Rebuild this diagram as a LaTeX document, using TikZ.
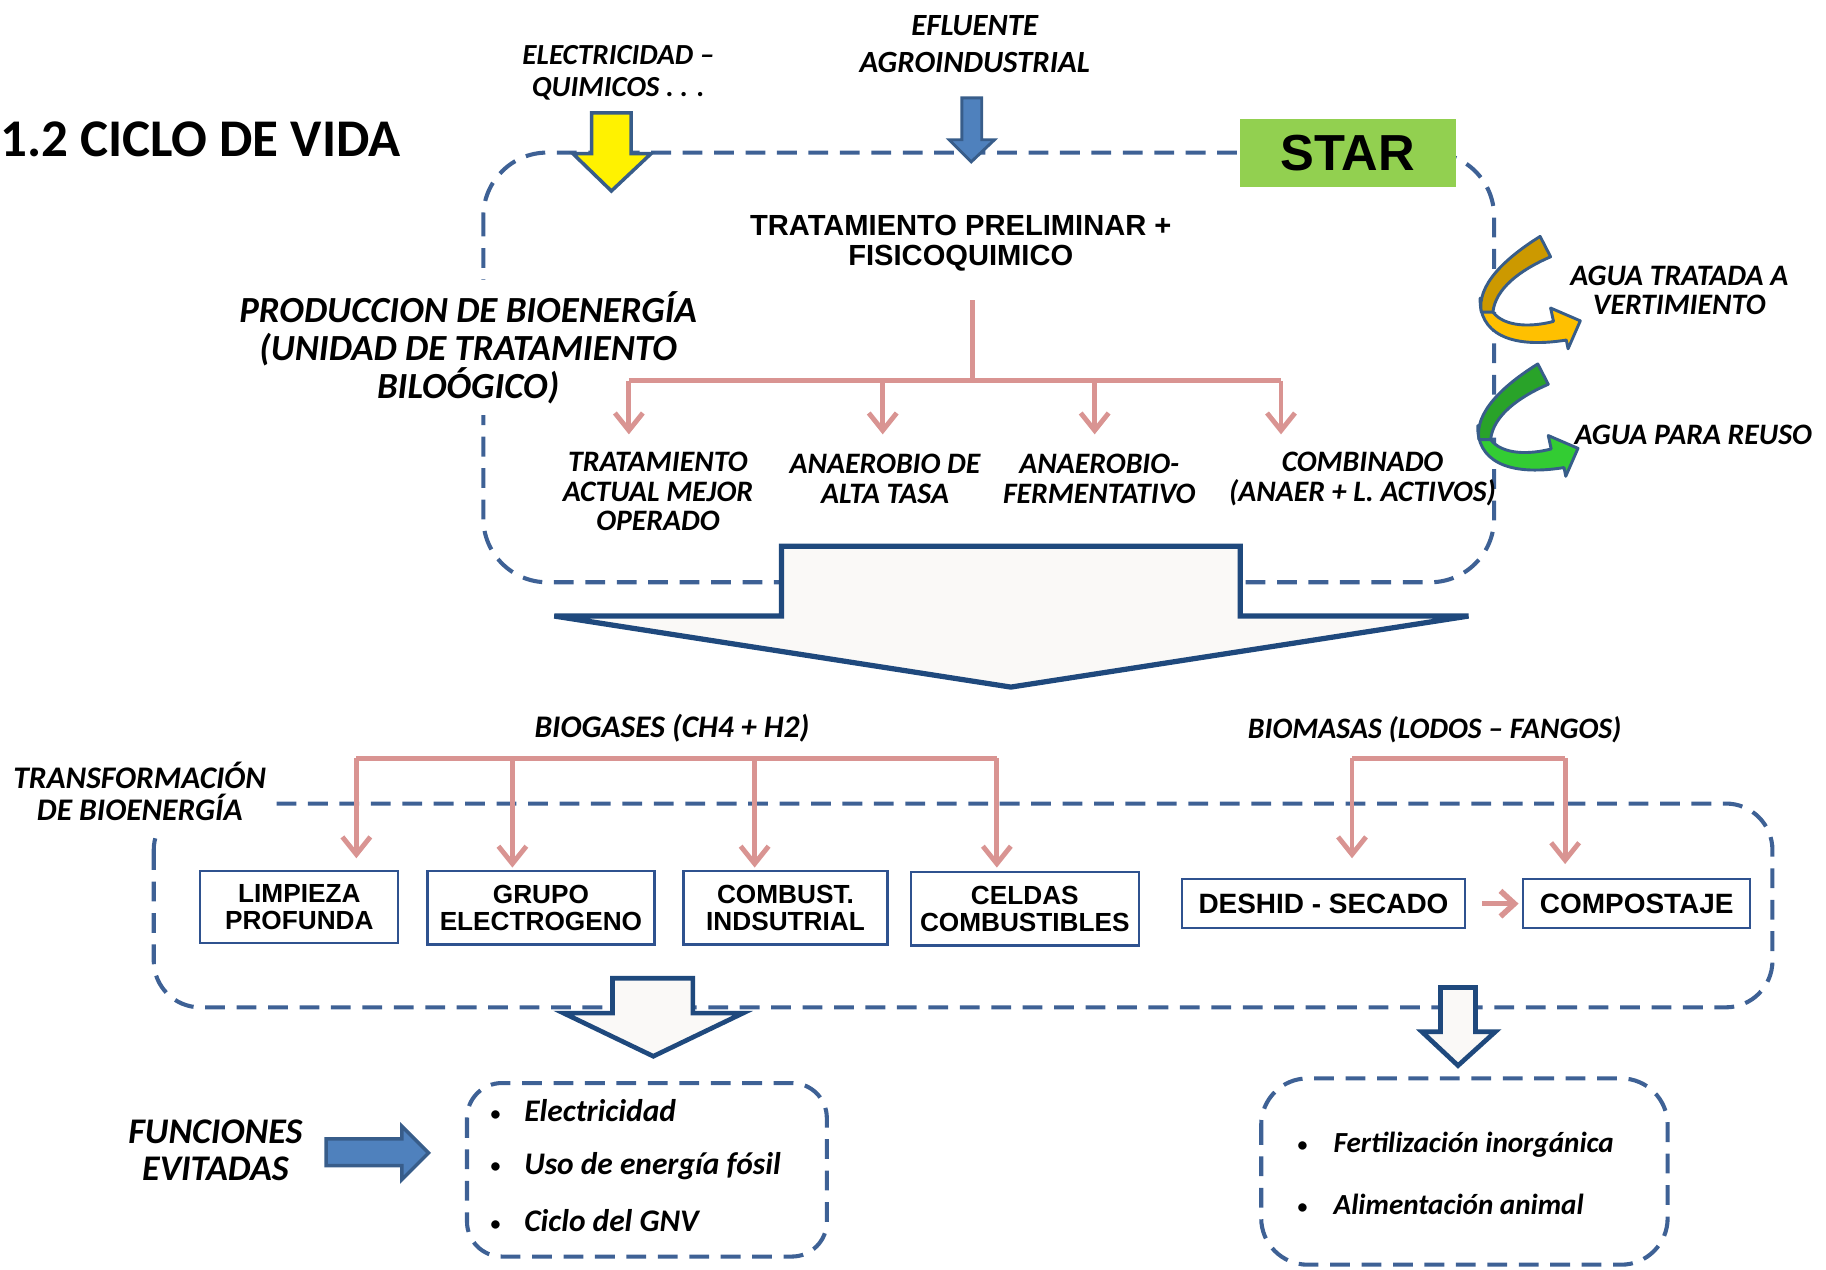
\documentclass[tikz,border=0pt]{standalone}
\usepackage{fontspec}
\setmainfont{Carlito}
\newfontfamily\arialf{Liberation Sans}
\usetikzlibrary{arrows.meta}
\definecolor{dashblue}{RGB}{62,97,149}
\definecolor{pinkc}{RGB}{217,148,146}
\definecolor{navy}{RGB}{31,73,125}
\definecolor{boxblue}{RGB}{47,82,143}
\definecolor{stargreen}{RGB}{146,208,80}
\definecolor{golddark}{RGB}{204,153,0}
\definecolor{goldlight}{RGB}{255,192,0}
\definecolor{greendark}{RGB}{41,163,41}
\definecolor{greenlight}{RGB}{51,204,51}
\definecolor{arrowblue}{RGB}{79,129,189}
\definecolor{arrowedge}{RGB}{56,93,138}
\definecolor{offwhite}{RGB}{250,249,247}
\newcommand\mycurvarrow[3]{%
  \begin{scope}[shift={(#1)}]
    \draw[arrowedge, line width=2.5pt, line join=round, fill=#3]
      (1271,256) .. controls (1270,285) and (1295,300) .. (1345,292)
      -- (1346.5,299.5) -- (1357,275.5) -- (1331.5,264.5) -- (1334,276)
      .. controls (1315,281) and (1292,281) .. (1282,268) -- cycle;
    \draw[arrowedge, line width=2.5pt, line join=round, fill=#2]
      (1322.5,203) .. controls (1292,222) and (1268,245) .. (1272,268)
      -- (1282,268) .. controls (1284,248) and (1305,232) .. (1331.5,220.5) -- cycle;
  \end{scope}}
\newcommand\mybul{\makebox[0pt][l]{\upshape\fontsize{17}{17}\selectfont\raisebox{1pt}{\textbullet}}}
\begin{document}
\begin{tikzpicture}[x=1pt,y=-1pt,
  itf/.style 2 args={font=\fontsize{#1}{#2}\selectfont\bfseries\itshape, align=center, inner sep=0pt},
  arf/.style 2 args={font=\arialf\fontsize{#1}{#2}\selectfont\bfseries, align=center, inner sep=0pt},
  dbox/.style={draw=dashblue, line width=3.5pt, dash pattern=on 17pt off 10pt},
  pbox/.style={draw=boxblue, line width=2pt, fill=white},
  pk/.style={draw=pinkc, line width=4.2pt},
  pka/.style={pk, -{Straight Barb[length=15pt,width=24pt]}},
  blk/.style={draw=navy, line width=4.5pt, fill=offwhite, line join=miter},
  fillarrow/.style={draw=arrowedge, line width=3pt, line join=miter},
]
\useasboundingbox (0,0) rectangle (1568,1090);

% dashed frames
\draw[dbox, rounded corners=55pt] (415,131) rectangle (1283,500);
\draw[dbox, rounded corners=40pt] (132,690) rectangle (1522,865);
\draw[dbox, rounded corners=30pt] (401,930) rectangle (710,1079);
\draw[dbox, rounded corners=40pt] (1083,926) rectangle (1432,1086);

% STAR
\node[fill=stargreen, minimum width=185pt, minimum height=59pt, inner sep=0pt,
      font=\arialf\fontsize{43.5}{43.5}\selectfont\bfseries] (star) at (1157.5,131.5) {STAR};

% labels with white background that cut the frames
\node[itf={31.6}{32.5}, fill=white, inner xsep=6pt, inner ysep=10pt] (prod) at (402,298.5)
  {PRODUCCION DE BIOENERGÍA\\(UNIDAD DE TRATAMIENTO\\BILOÓGICO)};
\node[itf={27}{27}, fill=white, inner xsep=8pt, inner ysep=14pt] (transf) at (120,679.5)
  {TRANSFORMACIÓN\\DE BIOENERGÍA};

% top title and inputs
\node[font=\fontsize{45.5}{45.5}\selectfont\bfseries, anchor=west, inner sep=0pt] (title) at (0,120) {1.2 CICLO DE VIDA};
\node[itf={25}{27}] (elec) at (531,62.5) {ELECTRICIDAD –\\QUIMICOS . . .};
\node[itf={26.5}{32}] (eflu) at (837,38) {EFLUENTE\\AGROINDUSTRIAL};

\draw[fillarrow, fill=yellow] (508,97) -- (542,97) -- (542,132) -- (559,132) -- (525,164)
  -- (492,132) -- (508,132) -- cycle;
\draw[fillarrow, fill=arrowblue, line width=2.5pt] (826,84) -- (843,84) -- (843,120) -- (854,120)
  -- (834,139) -- (815,120) -- (826,120) -- cycle;

\node[arf={25}{26}] (prelim) at (825,209) {TRATAMIENTO PRELIMINAR +\\FISICOQUIMICO};

% four treatment options
\node[itf={25.5}{25.5}] (opt1) at (565,422) {TRATAMIENTO\\ACTUAL MEJOR\\OPERADO};
\node[itf={25.5}{26}] (opt2) at (760,411) {ANAEROBIO DE\\ALTA TASA};
\node[itf={25.5}{26}] (opt3) at (944,411) {ANAEROBIO-\\FERMENTATIVO};
\node[itf={25.5}{26}] (opt4) at (1170,411) {COMBINADO\\(ANAER + L. ACTIVOS)};

\coordinate (p0) at (835,258);
\coordinate (p1) at (835,327);
\coordinate (pl) at (540,327);
\coordinate (pr) at (1100,327);
\draw[pk] (p0) -- (p1);
\draw[pk] (pl) -- (pr);
\draw[pka] (pl) -- (540,373);
\draw[pka] (758,327) -- (758,373);
\draw[pka] (940,327) -- (940,373);
\draw[pka] (pr) -- (1100,373);

% right outputs
\mycurvarrow{0,0}{golddark}{goldlight}
\mycurvarrow{-2,109.5}{greendark}{greenlight}
\node[itf={25.5}{25}] (agua1) at (1442,249.5) {AGUA TRATADA A\\VERTIMIENTO};
\node[itf={25.5}{25}] (agua2) at (1454,373) {AGUA PARA REUSO};

% big block arrow
\draw[blk] (671,469) -- (1065,469) -- (1065,529) -- (1261,529) -- (868,590) -- (476,529)
  -- (671,529) -- cycle;

% transformation stage
\node[itf={27}{27}] (biogas) at (577,625) {BIOGASES (CH4 + H2)};
\node[itf={25.5}{25}] (biomas) at (1232,627) {BIOMASAS (LODOS – FANGOS)};

\node[pbox, minimum width=170pt, minimum height=62pt, inner sep=0pt, arf={22.5}{23}] (limp) at (257,779) {LIMPIEZA\\PROFUNDA};
\node[pbox, minimum width=195pt, minimum height=63pt, inner sep=0pt, arf={22.5}{23}] (grupo) at (464.5,779.5) {GRUPO\\ELECTROGENO};
\node[pbox, minimum width=175pt, minimum height=63pt, inner sep=0pt, arf={22.5}{23}] (comb) at (674.5,779.5) {COMBUST.\\INDSUTRIAL};
\node[pbox, minimum width=196pt, minimum height=63pt, inner sep=0pt, arf={22.5}{23}] (celdas) at (880,780.5) {CELDAS\\COMBUSTIBLES};
\node[pbox, minimum width=243pt, minimum height=42pt, inner sep=0pt, arf={24}{24}] (deshid) at (1136.5,776) {DESHID - SECADO};
\node[pbox, minimum width=195pt, minimum height=42pt, inner sep=0pt, arf={24}{24}] (compost) at (1405.5,776) {COMPOSTAJE};

\coordinate (bgl) at (306,651);
\coordinate (bgr) at (856,651);
\draw[pk] (bgl) -- (bgr);
\draw[pka] (bgl) -- (306,737);
\draw[pka] (440,651) -- (440,745);
\draw[pka] (648,651) -- (648,745);
\draw[pka] (bgr) -- (856,745);

\coordinate (bml) at (1161,651);
\coordinate (bmr) at (1344,651);
\draw[pk] (bml) -- (bmr);
\draw[pka] (bml) -- (1161,737);
\draw[pka] (bmr) -- (1344,742);

\draw[draw=pinkc, line width=4.8pt, -{Straight Barb[length=12pt,width=22pt]}, shorten <=14pt, shorten >=3pt]
  (deshid.east) -- (compost.west);

% lower block arrows
\draw[blk, line width=4pt] (526,840) -- (595,840) -- (595,870) -- (638,870) -- (561,907)
  -- (484,870) -- (526,870) -- cycle;
\draw[blk, line width=4pt] (1237,848) -- (1267,848) -- (1267,886) -- (1284,886) -- (1252,915)
  -- (1221,886) -- (1237,886) -- cycle;

% avoided functions
\node[itf={31}{32}] (func) at (185,988) {FUNCIONES\\EVITADAS};
\draw[fillarrow, fill=arrowblue] (280,978) -- (345,978) -- (345,967) -- (368,990) -- (345,1013)
  -- (345,1001) -- (280,1001) -- cycle;

\node[itf={27}{27}, anchor=west] (i1) at (421,954) {\makebox[29pt][l]{\mybul}Electricidad};
\node[itf={27}{27}, anchor=west] (i2) at (421,1001) {\makebox[29pt][l]{\mybul}Uso de energía fósil};
\node[itf={27}{27}, anchor=west] (i3) at (421,1048) {\makebox[29pt][l]{\mybul}Ciclo del GNV};

\node[itf={25}{25}, anchor=west] (f1) at (1114,983) {\makebox[31pt][l]{\mybul}Fertilización inorgánica};
\node[itf={25}{25}, anchor=west] (f2) at (1114,1034) {\makebox[31pt][l]{\mybul}Alimentación animal};
\end{tikzpicture}
\end{document}
